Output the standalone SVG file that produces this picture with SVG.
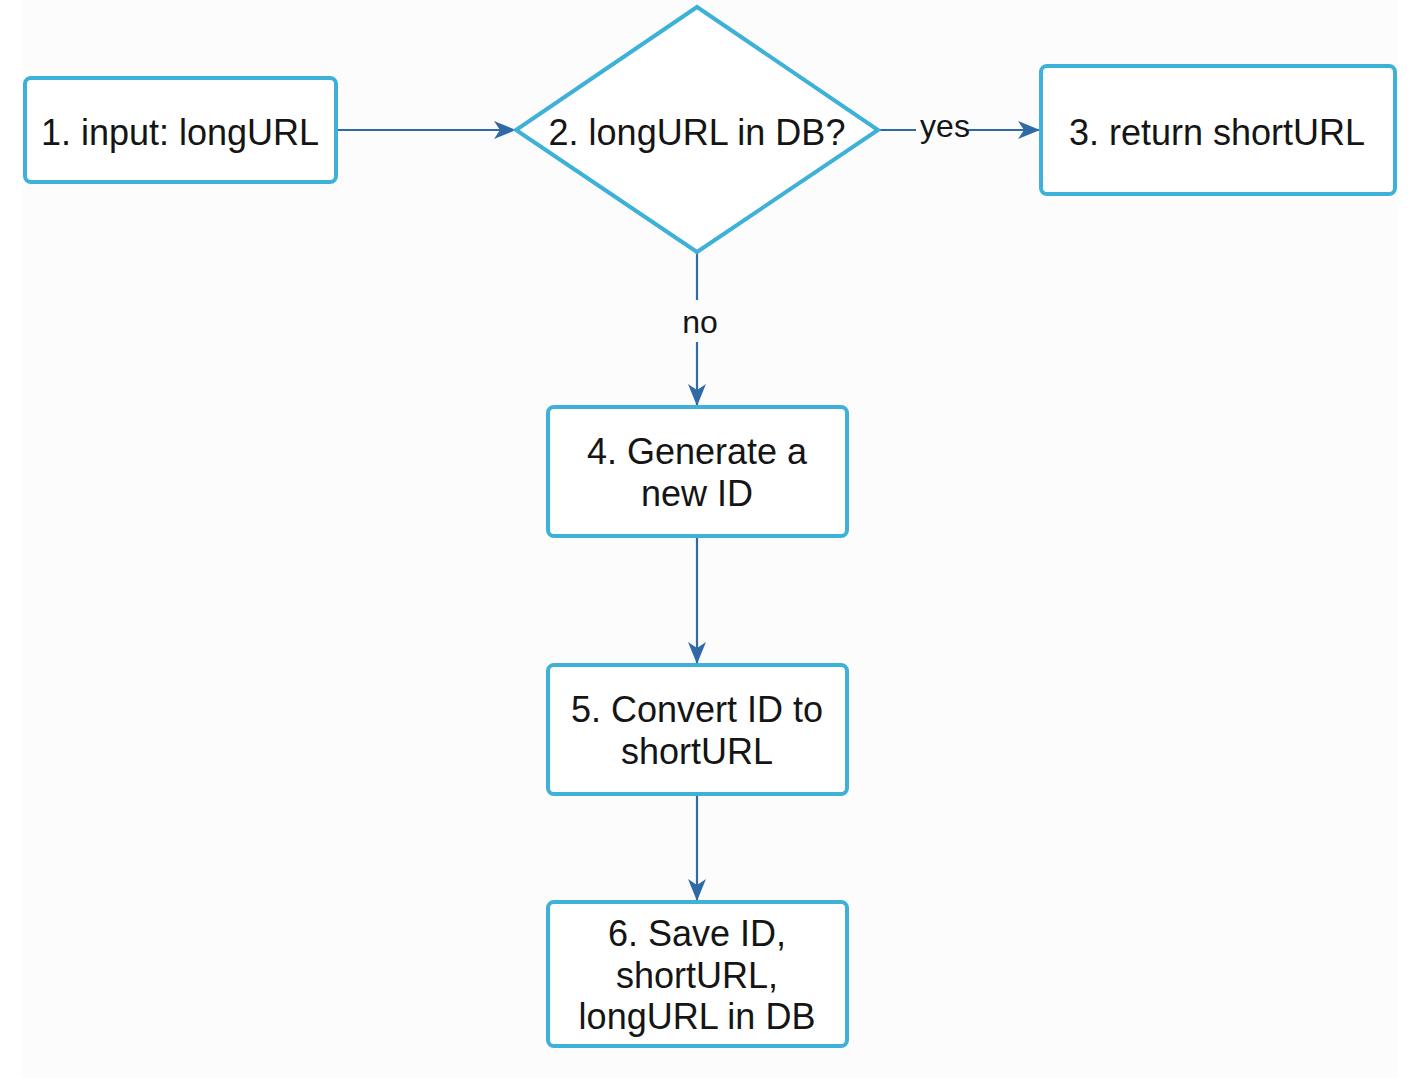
<svg xmlns="http://www.w3.org/2000/svg" width="1412" height="1078" viewBox="0 0 1412 1078">
  <style>
    .node { fill: #ffffff; stroke: #3db1d8; stroke-width: 4; }
    .label { font-family: "Liberation Sans", Arial, sans-serif; font-size: 36px; fill: #151515; text-anchor: middle; }
    .edge-label { font-family: "Liberation Sans", Arial, sans-serif; font-size: 32px; fill: #151515; text-anchor: middle; }
    .edge { fill: none; stroke: #2f6aa7; stroke-width: 2.2; }
  </style>
  <defs>
    <marker id="arrow" viewBox="0 0 22 18" markerWidth="22" markerHeight="18" refX="22" refY="9" markerUnits="userSpaceOnUse" orient="auto">
      <path d="M0,0 L22,9 L0,18 L6,9 Z" fill="#2f6aa7"/>
    </marker>
  </defs>

  <!-- page background -->
  <rect x="0" y="0" width="1412" height="1078" fill="#ffffff"/>
  <rect x="22" y="0" width="1376" height="1078" fill="#fcfcfc"/>

  <g id="connectors">
    <line class="edge" x1="337" y1="130" x2="516" y2="130" marker-end="url(#arrow)"/>
    <line class="edge" x1="879" y1="130" x2="916" y2="130"/>
    <line class="edge" x1="968" y1="130" x2="1040" y2="130" marker-end="url(#arrow)"/>
    <text class="edge-label" x="945" y="137">yes</text>
    <line class="edge" x1="697" y1="253" x2="697" y2="300"/>
    <line class="edge" x1="697" y1="342" x2="697" y2="406" marker-end="url(#arrow)"/>
    <text class="edge-label" x="700" y="333">no</text>
    <line class="edge" x1="697" y1="537" x2="697" y2="664" marker-end="url(#arrow)"/>
    <line class="edge" x1="697" y1="795" x2="697" y2="901" marker-end="url(#arrow)"/>
  </g>

  <g id="node-input">
    <rect class="node" x="25" y="78" width="311" height="104" rx="6"/>
    <text class="label" x="180" y="145">1. input: longURL</text>
  </g>

  <g id="node-check">
    <polygon class="node" points="697,7 878,130 697,252 516,130"/>
    <text class="label" x="697" y="145">2. longURL in DB?</text>
  </g>

  <g id="node-return">
    <rect class="node" x="1041" y="66" width="354" height="128" rx="6"/>
    <text class="label" x="1217" y="145">3. return shortURL</text>
  </g>

  <g id="node-generate">
    <rect class="node" x="548" y="407" width="299" height="129" rx="6"/>
    <text class="label" x="697" y="464">4. Generate a</text>
    <text class="label" x="697" y="506">new ID</text>
  </g>

  <g id="node-convert">
    <rect class="node" x="548" y="665" width="299" height="129" rx="6"/>
    <text class="label" x="697" y="722">5. Convert ID to</text>
    <text class="label" x="697" y="764">shortURL</text>
  </g>

  <g id="node-save">
    <rect class="node" x="548" y="902" width="299" height="144" rx="6"/>
    <text class="label" x="697" y="946">6. Save ID,</text>
    <text class="label" x="697" y="988">shortURL,</text>
    <text class="label" x="697" y="1029">longURL in DB</text>
  </g>
</svg>
